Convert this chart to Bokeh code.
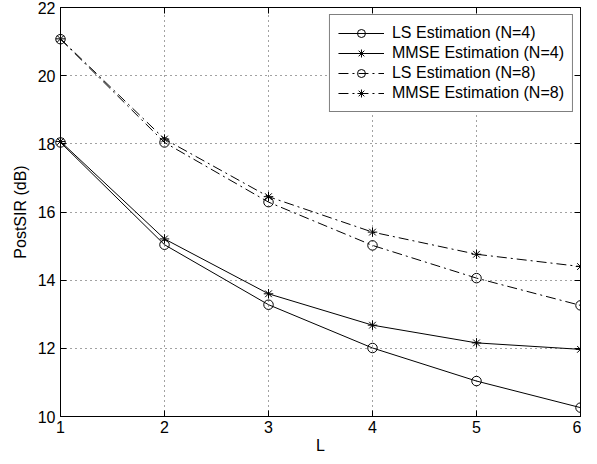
from bokeh.plotting import figure
from bokeh.models import Range1d, FixedTicker, LinearAxis, Legend, LegendItem, CustomJSTickFormatter
from bokeh.embed import file_html
from bokeh.resources import INLINE

# ---- data ----
L = [1, 2, 3, 4, 5, 6]
ls_n4 = [18.04, 15.04, 13.28, 12.01, 11.04, 10.26]
mmse_n4 = [18.07, 15.21, 13.60, 12.68, 12.16, 11.97]
ls_n8 = [21.07, 18.04, 16.29, 15.02, 14.06, 13.26]
mmse_n8 = [21.08, 18.14, 16.45, 15.41, 14.76, 14.40]
x_ticks = [1, 2, 3, 4, 5, 6]
y_ticks = [10, 12, 14, 16, 18, 20, 22]
labels = ["LS Estimation (N=4)", "MMSE Estimation (N=4)",
          "LS Estimation (N=8)", "MMSE Estimation (N=8)"]

FONT = "Liberation Sans"
FS = "16px"

p = figure(width=581, height=456, x_range=Range1d(1, 6), y_range=Range1d(10, 22),
           output_backend="svg", toolbar_location=None,
           min_border_left=60, min_border_right=1, min_border_top=7, min_border_bottom=40)
p.outline_line_color = "black"
p.outline_line_width = 1
p.background_fill_color = "white"
p.border_fill_color = "white"

for ax, ticks in ((p.xaxis[0], x_ticks), (p.yaxis[0], y_ticks)):
    ax.ticker = FixedTicker(ticks=ticks)
    ax.major_tick_in = 6
    ax.major_tick_out = 0
    ax.minor_tick_line_color = None
    ax.axis_line_color = "black"
    ax.major_tick_line_color = "black"
    ax.major_label_text_font = FONT
    ax.major_label_text_font_size = FS
    ax.major_label_text_color = "black"
    ax.axis_label_text_font = FONT
    ax.axis_label_text_font_size = FS
    ax.axis_label_text_font_style = "normal"
    ax.axis_label_text_color = "black"

p.xaxis.axis_label = "L"
p.yaxis.axis_label = "PostSIR (dB)"
p.xaxis.major_label_standoff = 4
p.xaxis.axis_label_standoff = 1
p.yaxis.major_label_standoff = 5
p.yaxis.axis_label_standoff = 6

for loc, ticks in (("right", y_ticks), ("above", x_ticks)):
    ax = LinearAxis(ticker=FixedTicker(ticks=ticks),
                    formatter=CustomJSTickFormatter(code="return ''"),
                    major_tick_in=6, major_tick_out=0, minor_tick_line_color=None,
                    major_label_standoff=0, major_label_text_font_size="1px",
                    axis_line_color="black", major_tick_line_color="black")
    p.add_layout(ax, loc)

p.xgrid.ticker = FixedTicker(ticks=x_ticks)
p.ygrid.ticker = FixedTicker(ticks=y_ticks)
for g in (p.xgrid[0], p.ygrid[0]):
    g.grid_line_color = "#444444"
    g.grid_line_dash = "1 4"
    g.grid_line_width = 1

series = [ls_n4, mmse_n4, ls_n8, mmse_n8]
dashes = ["solid", "solid", "10 4 2 4", "10 4 2 4"]
markers = ["circle", "asterisk", "circle", "asterisk"]
items = []
for ys, dash, mk, lab in zip(series, dashes, markers, labels):
    r1 = p.line(L, ys, line_color="black", line_width=1, line_dash=dash)
    r2 = p.scatter(L, ys, marker=mk, size=9.5, line_color="black", fill_color=None,
                   line_width=1, level="overlay")
    items.append(LegendItem(label=lab, renderers=[r1, r2]))

legend = Legend(items=items, location="top_right", margin=7, padding=8, spacing=0,
                border_line_color="black", border_line_width=1, background_fill_color="white",
                background_fill_alpha=1, label_text_font=FONT, label_text_font_size=FS,
                label_text_color="black", glyph_width=46, glyph_height=20, label_height=20,
                label_standoff=8, label_width=170)
p.add_layout(legend)

open("out.html", "w").write(file_html(p, INLINE))
